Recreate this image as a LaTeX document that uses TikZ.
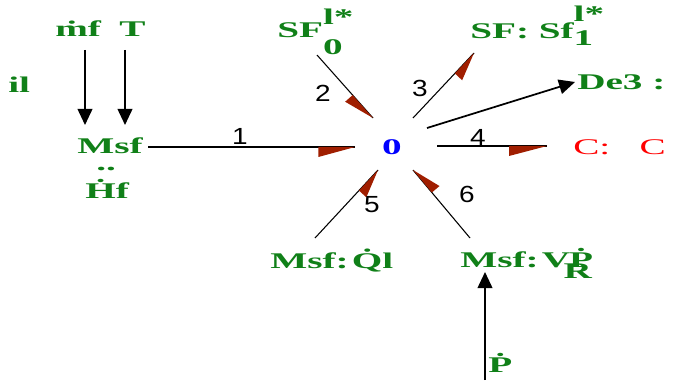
\documentclass[tikz,border=0pt]{standalone}
\usepackage{fontspec}
\usetikzlibrary{arrows.meta,calc}
\newfontfamily\gbf[FakeStretch=1.75]{Liberation Serif Bold}
\newfontfamily\grf[FakeStretch=1.75]{Liberation Serif}
\newfontfamily\lblf[FakeStretch=1.2]{Liberation Sans}
\definecolor{gr}{RGB}{16,128,24}
\definecolor{harpc}{RGB}{160,30,0}
\definecolor{zb}{RGB}{0,0,255}
\definecolor{cr}{RGB}{255,0,0}
\tikzset{
  gtxt/.style={text=gr,font=\gbf\fontsize{16.8}{18}\selectfont,inner sep=0pt,anchor=base west},
  rtxt/.style={text=cr,font=\grf\fontsize{16.8}{18}\selectfont,inner sep=0pt,anchor=base west},
  btxt/.style={text=zb,font=\gbf\fontsize{16.8}{18}\selectfont,inner sep=0pt},
  blbl/.style={text=black,font=\lblf\fontsize{17.5}{19}\selectfont,inner sep=0pt},
  bondline/.style={draw=black,line width=0.8pt},
  harp/.style={fill=harpc},
  sig/.style={draw=black,line width=1.3pt,-{Triangle[length=12pt,width=11pt]}},
}
\newcommand\hbond[3]{% start, end, triangle length
  \draw[bondline] (#1) -- (#2);
  \fill[harp] (#2) -- ($(#2)!#3!(#1)$) -- ($(#2)!#3!(#1)!7.5pt!90:(#1)$) -- cycle;
}
\begin{document}
\begin{tikzpicture}[x=0.75pt,y=-0.75pt]
\useasboundingbox (0,0) rectangle (674,381);
\clip (0,0) rectangle (674,381);
% text nodes
\node[gtxt] (mf) at (55,37) {\.mf};
\node[gtxt] (T) at (119,37) {T};
\node[gtxt] (il) at (8,93) {il};
\node[gtxt] (msf) at (77,153) {Msf};
\node[gtxt] (dd) at (96,171) {..};
\node[gtxt] (hf) at (85,198) {\.Hf};
\node[btxt] (zero) at (392,147) {0};
\node[gtxt] (sf0) at (277,38) {SF\rlap{\raisebox{0.6em}{l*}}\raisebox{-0.75em}{0}};
\node[gtxt] (sf1) at (470,39) {SF: Sf\rlap{\raisebox{0.8em}{l*}}\raisebox{-0.3em}{1}};
\node[gtxt] (de3) at (577,90) {De3 :};
\node[rtxt] (cc) at (573,155) {C:\ \ \ C};
\node[gtxt] (ql) at (270,268) {Msf:\kern0.15em \.Ql};
\node[gtxt] (vp) at (460,267) {Msf:\kern0.15em V\rlap{\raisebox{-0.5em}{\kern-0.3em R}}\kern-0.05em\.P};
\node[gtxt] (pd) at (488,372) {\.P};
% bond end points
\coordinate (b1s) at (148,147);  \coordinate (b1e) at (355,147);
\coordinate (b2s) at (317,55);   \coordinate (b2e) at (373,118);
\coordinate (b3s) at (413,118);  \coordinate (b3e) at (474,53);
\coordinate (b4s) at (437,146);  \coordinate (b4e) at (547,146);
\coordinate (b5s) at (315,238);  \coordinate (b5e) at (378,170);
\coordinate (b6s) at (470,238);  \coordinate (b6e) at (413,170);
% bonds
\hbond{b1s}{b1e}{27.5pt}
\hbond{b2s}{b2e}{23pt}
\hbond{b3s}{b3e}{21pt}
\hbond{b4s}{b4e}{28.5pt}
\hbond{b5s}{b5e}{21pt}
\hbond{b6s}{b6e}{22pt}
% bond labels
\node[blbl] (l1) at (240,136) {1};
\node[blbl] (l2) at (323,93) {2};
\node[blbl] (l3) at (420,88) {3};
\node[blbl] (l4) at (478,137) {4};
\node[blbl] (l5) at (372,205) {5};
\node[blbl] (l6) at (467,194) {6};
% signal arrows
\coordinate (s1s) at (85,50);   \coordinate (s1e) at (85,125);
\coordinate (s2s) at (125,50);  \coordinate (s2e) at (125,125);
\coordinate (s3s) at (427,128); \coordinate (s3e) at (575,82);
\coordinate (s4s) at (485,380); \coordinate (s4e) at (485,272);
\draw[sig] (s1s) -- (s1e);
\draw[sig] (s2s) -- (s2e);
\draw[sig] (s3s) -- (s3e);
\draw[sig] (s4s) -- (s4e);
\end{tikzpicture}
\end{document}
